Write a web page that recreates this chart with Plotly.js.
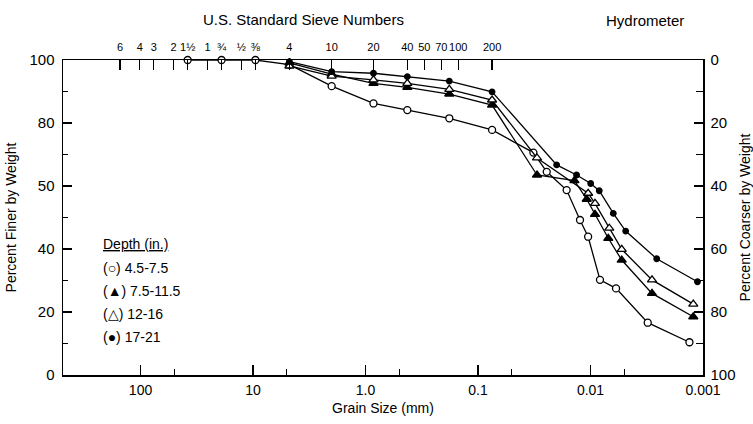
<!DOCTYPE html>
<html>
<head>
<meta charset="utf-8">
<script src="https://cdn.plot.ly/plotly-3.0.1.min.js"></script>
<style>html,body{margin:0;padding:0;background:#fff;}#chart{width:753px;height:424px;}</style>
</head>
<body>
<div id="chart"></div>
<script>
// Grain size (mm) and percent finer for each depth interval
const d1 = [38.1, 19.05, 9.525, 4.75, 2.0, 0.85, 0.425, 0.18, 0.075, 0.0322, 0.0245, 0.0163, 0.0124, 0.0105, 0.00824, 0.00593, 0.0031, 0.00132];
const p1 = [100, 100, 100, 98.5, 91.7, 86.2, 84.1, 81.5, 77.8, 70.6, 64.5, 58.7, 49.2, 43.9, 30.2, 27.5, 16.6, 10.4];

const d2 = [4.75, 2.0, 0.85, 0.425, 0.18, 0.075, 0.0299, 0.0139, 0.0108, 0.00912, 0.00695, 0.00528, 0.00284, 0.00122];
const p2 = [99.1, 95.5, 92.6, 91.3, 89.2, 85.7, 63.5, 61.7, 55.8, 51.0, 43.4, 36.5, 25.9, 18.5];

const d3 = [4.75, 2.0, 0.85, 0.425, 0.18, 0.075, 0.0299, 0.0105, 0.00912, 0.00681, 0.00528, 0.00284, 0.00122];
const p3 = [98.1, 94.9, 93.7, 92.6, 90.7, 87.3, 68.9, 57.7, 54.5, 46.6, 39.9, 30.2, 22.5];

const d4 = [4.75, 2.0, 0.85, 0.425, 0.18, 0.075, 0.0200, 0.0133, 0.00996, 0.00836, 0.00627, 0.00487, 0.00258, 0.00112];
const p4 = [99.5, 96.3, 95.8, 94.7, 93.3, 89.9, 66.7, 63.5, 60.8, 58.5, 51.3, 45.7, 36.9, 29.6];

// Axis ticks
const sizeTicks = [100, 10, 1, 0.1, 0.01, 0.001];
const sizeLabels = ['100', '10', '1.0', '0.1', '0.01', '0.001'];
const sizeMinor = [50, 5, 0.5, 0.05, 0.005];
const sieveMm = [152.4, 101.6, 76.2, 50.8, 38.1, 25.4, 19.05, 12.7, 9.525, 4.75, 2.0, 0.85, 0.425, 0.3, 0.212, 0.15, 0.075];
const sieveLabels = ['6', '4', '3', '2', '1½', '1', '¾', '½', '⅜', '4', '10', '20', '40', '50', '70', '100', '200'];
const finerTicks = [0, 20, 40, 60, 80, 100];
const finerLabels = ['0', '20', '40', '50', '80', '100'];
const coarserTicks = [0, 20, 40, 60, 80, 100];
const coarserLabels = ['0', '20', '40', '60', '80', '100'];
const pctMinor = [10, 30, 50, 70, 90];

const legendNames = ['(○) 4.5-7.5', '(▲) 7.5-11.5', '(△) 12-16', '(●) 17-21'];

const F = 'Liberation Sans, Arial, sans-serif';
const line = {color: '#000', width: 1.3};
function tr(x, y, sym, size, fill) {
  return {x: x, y: y, type: 'scatter', mode: 'lines+markers', line: line,
    marker: {symbol: sym, size: size, color: fill, line: {color: '#000', width: 1.3}},
    showlegend: false, cliponaxis: false};
}
const data = [
  tr(d1, p1, 'circle', 7, '#fff'),
  tr(d2, p2, 'triangle-up', 8, '#000'),
  tr(d3, p3, 'triangle-up', 8, '#fff'),
  tr(d4, p4, 'circle', 5.5, '#000'),
  {x: [1], y: [0], xaxis: 'x2', yaxis: 'y2', type: 'scatter', mode: 'markers', marker: {opacity: 0}, showlegend: false, hoverinfo: 'skip'}
];

const xr = [Math.log10(489), -3];
const annotations = [
  {text: 'U.S. Standard Sieve Numbers', x: 303, y: 19, size: 15},
  {text: 'Hydrometer', x: 645, y: 20, size: 15},
  {text: '<span style="text-decoration:underline">Depth (in.)</span>', x: 101, y: 244, xanchor: 'left'},
  {text: legendNames[0], x: 101, y: 268, xanchor: 'left'},
  {text: legendNames[1], x: 101, y: 291, xanchor: 'left'},
  {text: legendNames[2], x: 101, y: 314, xanchor: 'left'},
  {text: legendNames[3], x: 101, y: 337, xanchor: 'left'}
].map(a => Object.assign({xanchor: 'center', yanchor: 'middle', showarrow: false}, a, {
  font: {family: F, size: a.size || 14, color: '#000'},
  xref: 'paper', yref: 'paper', x: (a.x - 63) / 640, y: (375 - a.y) / 315
}));
annotations.forEach(a => delete a.size);

const layout = {
  width: 753, height: 424,
  margin: {l: 63, r: 50, t: 60, b: 49},
  paper_bgcolor: '#fff', plot_bgcolor: '#fff',
  font: {family: F, size: 14, color: '#000'},
  showlegend: false,
  xaxis: {type: 'log', range: xr, autorange: false, tickmode: 'array', tickvals: sizeTicks, ticktext: sizeLabels,
    ticks: 'inside', ticklen: 10, tickwidth: 1.2, tickcolor: '#000', showline: true, linecolor: '#000', linewidth: 1.5,
    showgrid: false, zeroline: false, mirror: false, ticklabelstandoff: 2, tickangle: 0, tickfont: {size: 14},
    minor: {tickvals: sizeMinor, ticks: 'inside', ticklen: 6, tickwidth: 1.2, tickcolor: '#000', showgrid: false},
    title: {text: 'Grain Size (mm)', font: {size: 14}, standoff: 6}},
  xaxis2: {type: 'log', range: xr, autorange: false, overlaying: 'x', side: 'top', tickmode: 'array', tickvals: sieveMm, ticktext: sieveLabels,
    ticks: 'inside', ticklen: 10, tickwidth: 1.2, tickcolor: '#000', showline: true, linecolor: '#000', linewidth: 1.3,
    showgrid: false, zeroline: false, tickfont: {size: 11}, ticklabelstandoff: 3, tickangle: 0},
  yaxis: {range: [0, 100], autorange: false, tickmode: 'array', tickvals: finerTicks, ticktext: finerLabels,
    ticks: 'inside', ticklen: 9, tickwidth: 1.2, tickcolor: '#000', showline: true, linecolor: '#000', linewidth: 1.5,
    showgrid: false, zeroline: false, ticklabelstandoff: 4, tickfont: {size: 15},
    minor: {tickvals: pctMinor, ticks: 'inside', ticklen: 5, tickwidth: 1.2, tickcolor: '#000', showgrid: false},
    title: {text: 'Percent Finer by Weight', font: {size: 14}, standoff: 9}},
  yaxis2: {range: [100, 0], autorange: false, overlaying: 'y', side: 'right', tickmode: 'array', tickvals: coarserTicks, ticktext: coarserLabels,
    ticks: 'inside', ticklen: 9, tickwidth: 1.2, tickcolor: '#000', showline: true, linecolor: '#000', linewidth: 1.5,
    showgrid: false, zeroline: false, ticklabelstandoff: 3, tickfont: {size: 15},
    minor: {tickvals: pctMinor, ticks: 'inside', ticklen: 7, tickwidth: 1.2, tickcolor: '#000', showgrid: false},
    title: {text: 'Percent Coarser by Weight', font: {size: 14}, standoff: 6}},
  annotations: annotations
};
Plotly.newPlot('chart', data, layout, {staticPlot: true, displayModeBar: false});
</script>
</body>
</html>
